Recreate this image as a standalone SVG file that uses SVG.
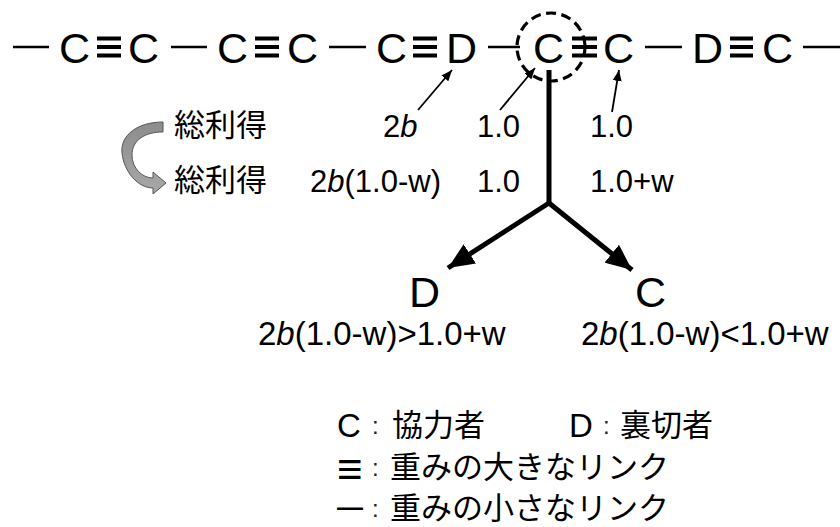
<svg xmlns="http://www.w3.org/2000/svg" width="840" height="527" viewBox="0 0 840 527">
<style>
.t{font-family:"Liberation Sans","Noto Sans CJK JP",sans-serif;fill:#000}
.n{font-size:43px}
.v{font-size:31px}
.c{font-size:33px}
.k{font-family:"Liberation Sans",sans-serif;font-size:24px;fill:#222}
.j{font-family:"Noto Sans CJK JP","Liberation Sans",sans-serif;font-size:31px;fill:#000}
.weak{stroke:#000;stroke-width:2.5}
.strong{stroke:#000;stroke-width:4}
.thin{stroke:#000;stroke-width:1.8;fill:none}
.thick{stroke:#000;stroke-width:5;fill:none}
</style>
<defs>
<marker id="sa" markerUnits="userSpaceOnUse" viewBox="0 0 11 9" markerWidth="11" markerHeight="9" refX="11" refY="4.5" orient="auto">
<path d="M0,0 L11,4.5 L0,9 z" fill="#000"/>
</marker>
<marker id="ba" markerUnits="userSpaceOnUse" viewBox="0 0 26 23" markerWidth="26" markerHeight="23" refX="26" refY="11.5" orient="auto">
<path d="M0,0 L26,11.5 L0,23 z" fill="#000"/>
</marker>
<linearGradient id="gg" x1="0" y1="0" x2="0" y2="1">
<stop offset="0" stop-color="#8c8c8c"/>
<stop offset="1" stop-color="#a8a8a8"/>
</linearGradient>
</defs>
<rect width="840" height="527" fill="#fff"/>

<g id="connectors">
<line class="weak" x1="13" y1="47" x2="49" y2="47"/>
<g class="strong"><line x1="97" y1="38.5" x2="121" y2="38.5"/><line x1="97" y1="47" x2="121" y2="47"/><line x1="97" y1="55.5" x2="121" y2="55.5"/></g>
<line class="weak" x1="171" y1="47" x2="207" y2="47"/>
<g class="strong"><line x1="255" y1="38.5" x2="279" y2="38.5"/><line x1="255" y1="47" x2="279" y2="47"/><line x1="255" y1="55.5" x2="279" y2="55.5"/></g>
<line class="weak" x1="329" y1="47" x2="366" y2="47"/>
<g class="strong"><line x1="413" y1="38.5" x2="437" y2="38.5"/><line x1="413" y1="47" x2="437" y2="47"/><line x1="413" y1="55.5" x2="437" y2="55.5"/></g>
<line class="weak" x1="488" y1="47" x2="520" y2="47"/>
<g class="strong"><line x1="572" y1="38.5" x2="597" y2="38.5"/><line x1="572" y1="47" x2="597" y2="47"/><line x1="572" y1="55.5" x2="597" y2="55.5"/></g>
<line class="weak" x1="645" y1="47" x2="682" y2="47"/>
<g class="strong"><line x1="730" y1="38.5" x2="753" y2="38.5"/><line x1="730" y1="47" x2="753" y2="47"/><line x1="730" y1="55.5" x2="753" y2="55.5"/></g>
<line class="weak" x1="803" y1="47" x2="840" y2="47"/>

<line class="thin" x1="418" y1="110" x2="452" y2="70" marker-end="url(#sa)"/>
<line class="thin" x1="500" y1="110" x2="535" y2="68" marker-end="url(#sa)"/>
<line class="thin" x1="612" y1="112" x2="619" y2="70" marker-end="url(#sa)"/>

<polyline class="thick" points="549,70 549,203"/>
<line class="thick" x1="549" y1="203" x2="448" y2="268" marker-end="url(#ba)"/>
<line class="thick" x1="549" y1="203" x2="632" y2="270" marker-end="url(#ba)"/>

<path d="M163,122 C138,122 120,135 122,153 C124,172 138,188 153,188 L153,194 L166,183 L153,172 L153,178 C142,178 132,168 132,155 C132,140 145,132 163,132 Z" fill="url(#gg)" stroke="#555" stroke-width="1"/>
</g>

<g id="node-c1"><text class="t n" x="59" y="63">C</text></g>
<g id="node-c2"><text class="t n" x="128" y="63">C</text></g>
<g id="node-c3"><text class="t n" x="217" y="63">C</text></g>
<g id="node-c4"><text class="t n" x="287" y="63">C</text></g>
<g id="node-c5"><text class="t n" x="376" y="63">C</text></g>
<g id="node-d1"><text class="t n" x="446" y="63">D</text></g>
<g id="node-focus"><text class="t n" x="533" y="63">C</text>
<circle cx="551" cy="47" r="34" fill="none" stroke="#000" stroke-width="3.2" stroke-dasharray="10 5.5"/></g>
<g id="node-c7"><text class="t n" x="603" y="63">C</text></g>
<g id="node-d2"><text class="t n" x="692" y="63">D</text></g>
<g id="node-c8"><text class="t n" x="762" y="63">C</text></g>

<g id="payoffs">
<text class="j" x="174" y="136">総利得</text>
<text class="t v" x="383" y="137">2<tspan font-style="italic">b</tspan></text>
<text class="t v" x="477" y="137">1.0</text>
<text class="t v" x="590" y="137">1.0</text>
<text class="j" x="174" y="191">総利得</text>
<text class="t v" x="310" y="192">2<tspan font-style="italic">b</tspan>(1.0-w)</text>
<text class="t v" x="477" y="192">1.0</text>
<text class="t v" x="590" y="192">1.0+w</text>
</g>

<g id="node-result-d"><text class="t n" x="409" y="307">D</text>
<text class="t c" x="258" y="345">2<tspan font-style="italic">b</tspan>(1.0-w)&gt;1.0+w</text></g>
<g id="node-result-c"><text class="t n" x="635" y="307">C</text>
<text class="t c" x="581" y="345">2<tspan font-style="italic">b</tspan>(1.0-w)&lt;1.0+w</text></g>

<g id="legend">
<text class="t" x="337" y="437" font-size="33">C</text><text class="k" x="372" y="434">:</text><text class="j" x="392" y="436">協力者</text>
<text class="t" x="569" y="437" font-size="33">D</text><text class="k" x="603" y="434">:</text><text class="j" x="620" y="436">裏切者</text>
<text class="t" x="337" y="484" font-size="44" font-weight="bold">≡</text><text class="k" x="372" y="476">:</text><text class="j" x="390" y="478">重みの大きなリンク</text>
<text class="t" x="337" y="516" font-size="26" font-weight="bold">—</text><text class="k" x="372" y="517">:</text><text class="j" x="390" y="519">重みの小さなリンク</text>
</g>
</svg>
